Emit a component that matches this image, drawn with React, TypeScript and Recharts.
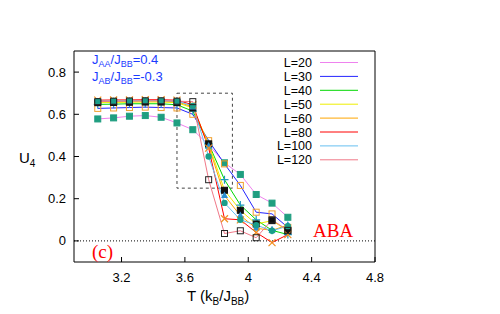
import React from 'react'
import {
  LineChart,
  Line,
  XAxis,
  YAxis,
  ReferenceArea,
  ReferenceLine,
} from 'recharts'

// temperatures (k_B T / J_BB)
const T = [3.05, 3.15, 3.25, 3.35, 3.45, 3.55, 3.65, 3.75, 3.85, 3.95, 4.05, 4.15, 4.25]

// Binder cumulant U4 for each lattice size
const L20 = [0.578, 0.583, 0.591, 0.594, 0.586, 0.559, 0.527, 0.455, 0.37, 0.315, 0.22, 0.179, 0.112]
const L30 = [0.628, 0.63, 0.632, 0.634, 0.632, 0.63, 0.6, 0.475, 0.365, 0.263, 0.136, 0.128, 0.064]
const L40 = [0.647, 0.648, 0.65, 0.65, 0.65, 0.645, 0.615, 0.46, 0.29, 0.17, 0.1, 0.05, 0.03]
const L50 = [0.655, 0.656, 0.657, 0.658, 0.658, 0.655, 0.63, 0.46, 0.24, 0.145, 0.08, 0.096, 0.048]
const L60 = [0.66, 0.661, 0.662, 0.663, 0.663, 0.66, 0.635, 0.45, 0.215, 0.12, 0.06, 0.05, 0.075]
const L80 = [0.667, 0.668, 0.668, 0.669, 0.669, 0.667, 0.645, 0.44, 0.105, 0.1, 0.04, -0.008, 0.03]
const L100 = [0.662, 0.663, 0.664, 0.665, 0.665, 0.662, 0.64, 0.4, 0.18, 0.1, 0.075, 0.048, 0.07]
const L120 = [0.66, 0.662, 0.663, 0.664, 0.664, 0.662, 0.66, 0.29, 0.035, 0.048, 0.015, 0.1, 0.05]

const LABELS = ['L=20', 'L=30', 'L=40', 'L=50', 'L=60', 'L=80', 'L=100', 'L=120']
const X_TICKS = [3.2, 3.6, 4, 4.4, 4.8]
const Y_TICKS = [0, 0.2, 0.4, 0.6, 0.8]

const data = T.map((t, i) => ({
  T: t,
  s0: L20[i], s1: L30[i], s2: L40[i], s3: L50[i],
  s4: L60[i], s5: L80[i], s6: L100[i], s7: L120[i],
}))

const COLORS = ['#ee82ee', '#2424ff', '#00d800', '#eeee00', '#ffa500', '#ff0000', '#66bff0', '#f07888']

const FONT = '"Liberation Sans", Arial, Helvetica, sans-serif'
const SERIF = '"Liberation Serif", "Times New Roman", serif'
const PLOT_LEFT = 74
const PLOT_BOTTOM = 262

// gnuplot-ish point types
const sq = (fill: string, stroke: string) => (p: any) =>
  p.cx == null ? <g key={p.index} /> : (
    <rect key={p.index} x={p.cx - 3} y={p.cy - 3} width={6} height={6} fill={fill} stroke={stroke} strokeWidth={1} />
  )
const plus = (color: string) => (p: any) =>
  p.cx == null ? <g key={p.index} /> : (
    <path key={p.index} d={`M${p.cx - 4},${p.cy}H${p.cx + 4}M${p.cx},${p.cy - 4}V${p.cy + 4}`} stroke={color} strokeWidth={1.2} />
  )
const cross = (color: string) => (p: any) =>
  p.cx == null ? <g key={p.index} /> : (
    <path key={p.index} d={`M${p.cx - 3.5},${p.cy - 3.5}L${p.cx + 3.5},${p.cy + 3.5}M${p.cx - 3.5},${p.cy + 3.5}L${p.cx + 3.5},${p.cy - 3.5}`} stroke={color} strokeWidth={1.2} />
  )
const circ = (color: string) => (p: any) =>
  p.cx == null ? <g key={p.index} /> : (
    <circle key={p.index} cx={p.cx} cy={p.cy} r={3.2} fill={color} />
  )
const tri = (color: string) => (p: any) =>
  p.cx == null ? <g key={p.index} /> : (
    <path key={p.index} d={`M${p.cx},${p.cy - 4}L${p.cx + 3.5},${p.cy + 2.5}L${p.cx - 3.5},${p.cy + 2.5}Z`} fill={color} />
  )

const DOTS = [
  sq('#1f9e80', '#1f9e80'),
  sq('none', '#f0a030'),
  plus('#1e98c0'),
  sq('#111', '#111'),
  tri('#2a8fd0'),
  cross('#f09020'),
  circ('#1a9e8a'),
  sq('none', '#222'),
]

const XTick = ({ x, y, payload }: any) => (
  <g>
    <line x1={x} x2={x} y1={PLOT_BOTTOM} y2={PLOT_BOTTOM - 5} stroke="#000" />
    <text x={x} y={y + 12} textAnchor="middle" fontSize={13} fontFamily={FONT} fill="#000">
      {String(payload.value)}
    </text>
  </g>
)

const YTick = ({ x, y, payload }: any) => (
  <g>
    <line x1={PLOT_LEFT} x2={PLOT_LEFT + 5} y1={y} y2={y} stroke="#000" />
    <text x={x} y={y + 4.5} textAnchor="end" fontSize={13} fontFamily={FONT} fill="#000">
      {String(payload.value)}
    </text>
  </g>
)

export default function App() {
  return (
    <div style={{ position: 'absolute', left: 0, top: 0, width: 500, height: 314, background: '#fff', fontFamily: FONT }}>
      <LineChart
        width={500}
        height={314}
        data={data}
        margin={{ top: 51, right: 125, bottom: 22, left: 24 }}
      >
        <XAxis
          type="number"
          dataKey="T"
          domain={[2.9, 4.8]}
          ticks={X_TICKS}
          allowDataOverflow
          axisLine={false}
          tickLine={false}
          height={30}
          tick={<XTick />}
        />
        <YAxis
          type="number"
          domain={[-0.1, 0.9]}
          ticks={Y_TICKS}
          allowDataOverflow
          axisLine={false}
          tickLine={false}
          width={50}
          tick={<YTick />}
        />
        <ReferenceLine y={0} stroke="#000" strokeDasharray="1 2" />
        <ReferenceArea x1={3.55} x2={3.9} y1={0.25} y2={0.7} fill="none" stroke="#444" strokeDasharray="3 3" />
        {LABELS.map((name, i) => (
          <Line
            key={name}
            name={name}
            dataKey={`s${i}`}
            stroke={COLORS[i]}
            strokeWidth={1}
            dot={DOTS[i]}
            activeDot={false}
            isAnimationActive={false}
            type="linear"
          />
        ))}
        <ReferenceArea x1={2.9} x2={4.8} y1={-0.1} y2={0.9} fill="none" stroke="#000" strokeWidth={1} />
      </LineChart>

      {/* legend + annotations */}
      <svg width={500} height={314} style={{ position: 'absolute', left: 0, top: 0, pointerEvents: 'none' }}>
        {LABELS.map((name, i) => {
          const cy = 62.5 + i * 13.9
          return (
            <g key={name}>
              <text x={312} y={cy + 4.5} textAnchor="end" fontSize={12.5} fontFamily={FONT} fill="#000">{name}</text>
              <line x1={320} x2={358} y1={cy} y2={cy} stroke={COLORS[i]} strokeWidth={1} />
            </g>
          )
        })}
        <text x={92} y={64} fontSize={13} fontFamily={FONT} fill="#1a3cff">
          J<tspan fontSize={9} dy={3}>AA</tspan>
          <tspan dy={-3}>/J</tspan>
          <tspan fontSize={9} dy={3}>BB</tspan>
          <tspan dy={-3}>=0.4</tspan>
        </text>
        <text x={92} y={81} fontSize={13} fontFamily={FONT} fill="#1a3cff">
          J<tspan fontSize={9} dy={3}>AB</tspan>
          <tspan dy={-3}>/J</tspan>
          <tspan fontSize={9} dy={3}>BB</tspan>
          <tspan dy={-3}>=-0.3</tspan>
        </text>
        <text x={313} y={237} fontSize={19} fontFamily={SERIF} fill="#ff0000">ABA</text>
        <text x={92} y={258} fontSize={19} fontFamily={SERIF} fill="#ff0000">(c)</text>
        <text x={19} y={163} fontSize={15} fontFamily={FONT} fill="#000">
          U<tspan fontSize={10} dy={4}>4</tspan>
        </text>
        <text x={187} y={301} fontSize={15} fontFamily={FONT} fill="#000">
          T (k<tspan fontSize={10} dy={4}>B</tspan>
          <tspan dy={-4}>/J</tspan>
          <tspan fontSize={10} dy={4}>BB</tspan>
          <tspan dy={-4}>)</tspan>
        </text>
      </svg>
    </div>
  )
}
